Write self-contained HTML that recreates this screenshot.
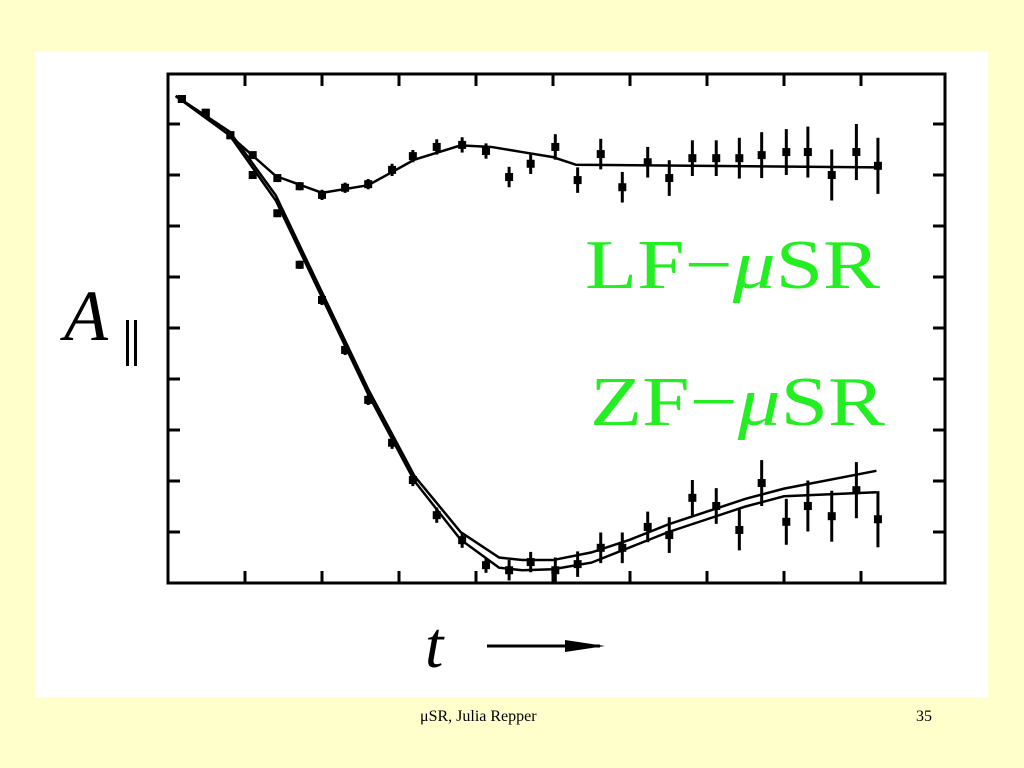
<!DOCTYPE html>
<html><head><meta charset="utf-8"><style>
body{margin:0;width:1024px;height:768px;background:#FFFFCC;overflow:hidden;position:relative;font-family:"Liberation Serif",serif}
#panel{position:absolute;left:35px;top:52px;width:953px;height:645px;background:#fff}
.foot{position:absolute;top:708px;font-size:16px;color:#000}
</style></head><body>
<div id="panel"></div>
<svg width="1024" height="768" style="position:absolute;left:0;top:0">
<rect x="168" y="74" width="777" height="509" fill="none" stroke="#000" stroke-width="3"/>
<g id="ticks"></g>
<g id="fits"></g>
<g id="pts"></g>
<text x="585" y="288" font-size="70" fill="#22ee22" font-family="Liberation Serif, serif" textLength="295" lengthAdjust="spacingAndGlyphs">LF−<tspan font-style="italic">μ</tspan>SR</text>
<text x="590" y="425" font-size="70" fill="#22ee22" font-family="Liberation Serif, serif" textLength="295" lengthAdjust="spacingAndGlyphs">ZF−<tspan font-style="italic">μ</tspan>SR</text>
<text x="64" y="340" font-size="72" font-style="italic" font-family="Liberation Serif, serif">A</text>
<rect x="126" y="320" width="3" height="46" fill="#000"/>
<rect x="134" y="320" width="3" height="46" fill="#000"/>
<text x="425" y="667" font-size="66" font-style="italic" font-family="Liberation Serif, serif">t</text>
<line x1="487" y1="646" x2="600" y2="646" stroke="#000" stroke-width="3"/>
<polygon points="565,640 605,646 565,652" fill="#000"/>
</svg>
<div class="foot" style="left:420px">μSR, Julia Repper</div>
<div class="foot" style="left:916px">35</div>
<script>
const xTicks=[1,2,3,4,5,6,7,8,9];
const yTicks=[1,2,3,4,5,6,7,8,9];
const tVals=[0.18,0.49,0.81,1.10,1.42,1.71,2.00,2.30,2.60,2.91,3.18,3.49,3.82,4.13,4.43,4.71,5.03,5.32,5.62,5.90,6.23,6.51,6.81,7.12,7.42,7.71,8.03,8.31,8.62,8.94,9.22];
const lfVals=[9.49,9.22,8.78,8.39,7.94,7.78,7.61,7.75,7.82,8.10,8.37,8.55,8.59,8.47,7.96,8.22,8.55,7.90,8.41,7.76,8.25,7.94,8.33,8.33,8.33,8.39,8.45,8.45,8.00,8.45,8.18];
const zfVals=[9.49,9.22,8.78,8.00,7.25,6.24,5.55,4.57,3.59,2.75,2.02,1.33,0.84,0.35,0.25,0.41,0.25,0.37,0.69,0.69,1.10,0.94,1.67,1.51,1.04,1.96,1.20,1.51,1.31,1.82,1.25];
const errVals=[0,0,0.05,0.05,0.05,0.08,0.1,0.1,0.1,0.12,0.12,0.15,0.15,0.15,0.2,0.2,0.25,0.25,0.3,0.3,0.3,0.35,0.35,0.35,0.4,0.45,0.45,0.5,0.5,0.55,0.55];
const lfFitT=[0.1,0.8,1.4,2.0,2.6,3.2,3.8,4.2,4.6,5.0,5.3,9.2];
const lfFitY=[9.55,8.78,7.98,7.65,7.80,8.30,8.58,8.55,8.45,8.35,8.20,8.15];
const zfFitT=[0.1,0.8,1.4,2.0,2.6,3.2,3.8,4.3,4.6,5.0,5.5,6.0,6.5,7.0,7.5,8.0,9.2];
const zfFitY=[9.55,8.78,7.5,5.6,3.7,2.0,0.85,0.3,0.25,0.27,0.4,0.7,1.0,1.25,1.5,1.7,1.78];
const zfFit2Y=[9.55,8.85,7.6,5.7,3.8,2.1,1.0,0.5,0.45,0.45,0.6,0.85,1.15,1.4,1.65,1.85,2.2];
const NS='http://www.w3.org/2000/svg';
const xs=v=>168+v*77, ys=v=>583-v*51;
function mk(tag,attrs,parent){const e=document.createElementNS(NS,tag);for(const k in attrs)e.setAttribute(k,attrs[k]);parent.appendChild(e);return e;}
const tg=document.getElementById('ticks');
xTicks.forEach(v=>{
 const a=mk('line',{x1:xs(v),x2:xs(v),y1:74,y2:86,stroke:'#000','stroke-width':3},tg);
 
 
 const b=mk('line',{x1:xs(v),x2:xs(v),y1:571,y2:583,stroke:'#000','stroke-width':3},tg);
 
 
});
yTicks.forEach(v=>{
 const a=mk('line',{x1:168,x2:180,y1:ys(v),y2:ys(v),stroke:'#000','stroke-width':3},tg);
 
 
 const b=mk('line',{x1:933,x2:945,y1:ys(v),y2:ys(v),stroke:'#000','stroke-width':3},tg);
 
 
});
const fg=document.getElementById('fits');
function line(T,Y,name){
 const p=mk('polyline',{points:T.map((t,i)=>xs(t)+','+ys(Y[i])).join(' '),fill:'none',stroke:'#000','stroke-width':2.5},fg);
 
 
}
line(lfFitT,lfFitY,'lf-fit-line');
line(zfFitT,zfFitY,'zf-fit-line');
line(zfFitT,zfFit2Y,'zf-fit-line-alt');
const pg=document.getElementById('pts');
function pts(Y,name){
 tVals.forEach((t,i)=>{
  const x=xs(t),y=ys(Y[i]),e=errVals[i]*51;
  if(e>0){const l=mk('line',{x1:x,x2:x,y1:y-e,y2:y+e,stroke:'#000','stroke-width':3},pg);
   
   }
  const r=mk('rect',{x:x-4,y:y-4,width:8,height:8,fill:'#000'},pg);
  
  
 });
}
pts(lfVals,'lf');
pts(zfVals,'zf');
</script>
</body></html>
